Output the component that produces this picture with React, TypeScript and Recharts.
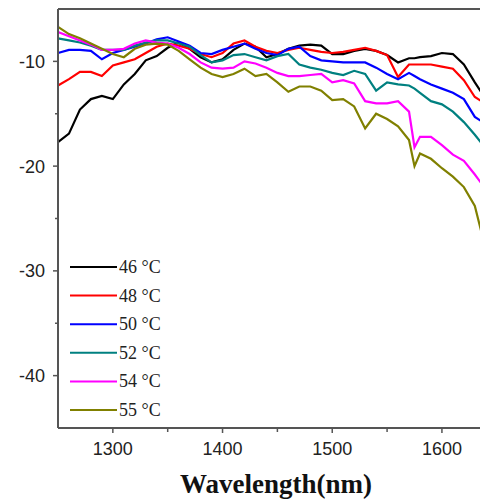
import React from 'react'
import {
  LineChart,
  Line,
  XAxis,
  YAxis,
  ReferenceLine,
  Label
} from 'recharts'

const wavelengths = [
  1250, 1260, 1270, 1280, 1290, 1300, 1310, 1320, 1330, 1340,
  1350, 1360, 1370, 1380, 1390, 1400, 1410, 1420, 1430, 1440,
  1450, 1460, 1470, 1480, 1490, 1500, 1510, 1520, 1530, 1540,
  1550, 1560, 1570, 1575, 1580, 1590, 1600, 1610, 1620, 1630, 1642
]

const t46 = [
  -17.7, -16.9, -14.6, -13.6, -13.3, -13.6, -12.2, -11.2, -9.9, -9.5,
  -8.7, -8.2, -8.8, -9.6, -10.1, -9.8, -8.9, -8.3, -8.6, -9.6,
  -9.3, -8.8, -8.5, -8.4, -8.5, -9.3, -9.3, -9.0, -8.8, -9.0,
  -9.4, -10.1, -9.7, -9.7, -9.6, -9.5, -9.2, -9.3, -10.3, -12.0, -13.9
]
const t48 = [
  -12.3, -11.7, -11.0, -11.0, -11.4, -10.4, -10.1, -9.8, -9.2, -8.6,
  -8.3, -8.5, -8.8, -9.3, -9.6, -9.2, -8.3, -8.0, -8.6, -9.0,
  -9.2, -8.9, -8.7, -8.9, -9.1, -9.2, -9.1, -8.9, -8.7, -9.0,
  -9.4, -11.5, -10.3, -10.3, -10.3, -10.3, -10.5, -10.7, -11.8, -13.4, -14.2
]
const t50 = [
  -9.2, -8.9, -8.9, -9.0, -9.8, -9.2, -8.9, -8.6, -8.3, -7.9,
  -7.7, -8.1, -8.5, -9.2, -9.3, -8.9, -8.6, -8.3, -8.8, -9.2,
  -9.4, -8.8, -8.6, -9.5, -9.9, -10.0, -10.1, -10.1, -10.1, -10.6,
  -11.2, -11.7, -11.1, -11.4, -11.7, -12.2, -12.6, -13.0, -13.6, -15.3, -16.1
]
const t52 = [
  -7.8, -8.0, -8.2, -8.5, -8.9, -8.9, -8.9, -8.5, -8.2, -8.0,
  -8.0, -8.3, -8.6, -9.4, -10.1, -9.9, -9.4, -9.3, -9.6, -9.9,
  -9.5, -9.3, -10.3, -10.6, -10.8, -11.1, -11.3, -10.9, -11.2, -12.8,
  -12.0, -12.2, -12.3, -12.6, -13.0, -13.8, -14.1, -14.8, -15.8, -17.0, -18.6
]
const t54 = [
  -7.2, -7.6, -8.0, -8.4, -8.9, -8.9, -8.8, -8.3, -8.0, -8.2,
  -8.3, -8.7, -9.3, -10.1, -10.6, -10.7, -10.6, -10.0, -10.2, -10.6,
  -11.1, -11.4, -11.4, -11.3, -11.2, -12.0, -11.8, -12.1, -13.8, -14.0,
  -14.0, -13.8, -14.8, -18.2, -17.2, -17.2, -18.0, -18.9, -19.5, -20.8, -22.5
]
const t55 = [
  -6.7, -7.4, -7.8, -8.3, -8.8, -9.3, -9.6, -8.8, -8.4, -8.3,
  -8.4, -9.0, -9.8, -10.6, -11.2, -11.5, -11.2, -10.7, -11.4, -11.2,
  -12.0, -12.9, -12.4, -12.4, -12.8, -13.7, -13.6, -14.3, -16.4, -15.0,
  -15.5, -16.2, -17.5, -20.0, -18.8, -19.3, -20.2, -21.0, -22.0, -23.8, -28.8
]

const seriesNames = ['46 °C', '48 °C', '50 °C', '52 °C', '54 °C', '55 °C']
const seriesColors = ['#000000', '#ff0000', '#0000ff', '#008080', '#ff00ff', '#808000']
const seriesValues = [t46, t48, t50, t52, t54, t55]

const xTicks = [1300, 1350, 1400, 1450, 1500, 1550, 1600]
const yTicks = [-40, -35, -30, -25, -20, -15, -10]

const data = wavelengths.map((w, i) => {
  const row: any = { w }
  seriesValues.forEach((vals, k) => {
    row['s' + k] = vals[i]
  })
  return row
})

const axisColor = '#555555'
const tickFont = "'Liberation Sans', Arial, sans-serif"
const serifFont = "'Liberation Serif', 'Times New Roman', serif"

const XTick = (props: any) => {
  const { x, y, payload } = props
  const major = payload.value % 100 === 0
  return (
    <g>
      <line x1={x} x2={x} y1={y} y2={y + (major ? 5 : 4)} stroke={axisColor} strokeWidth={1.5} />
      {major && (
        <text x={x} y={y + 27} textAnchor="middle" fontSize={18} fontFamily={tickFont} fill="#222">
          {payload.value}
        </text>
      )}
    </g>
  )
}

const YTick = (props: any) => {
  const { x, y, payload } = props
  const major = payload.value % 10 === 0
  return (
    <g>
      <line x1={x} x2={x - (major ? 5 : 3)} y1={y} y2={y} stroke={axisColor} strokeWidth={1.5} />
      {major && (
        <text x={x - 13} y={y + 6.5} textAnchor="end" fontSize={18} fontFamily={tickFont} fill="#222">
          {payload.value}
        </text>
      )}
    </g>
  )
}

// legend drawn as an overlay so the plot keeps its full height
const LegendBox = () => (
  <svg width={120} height={175} style={{ position: 'absolute', left: 55, top: 245 }}>
    {seriesNames.map((name, i) => {
      const cy = 14 + i * 28.6
      return (
        <g key={name}>
          <line x1={7} x2={54} y1={cy} y2={cy} stroke={seriesColors[i]} strokeWidth={2} />
          <text x={56} y={cy + 6} fontSize={18} fontFamily={serifFont} fill="#222">
            {name}
          </text>
        </g>
      )
    })}
  </svg>
)

export default function App() {
  return (
    <div style={{ position: 'relative', width: 480, height: 494 }}>
      {/* plot runs to the window edge, so keep scrollbars away */}
      <style>{'html, body { overflow: hidden; }'}</style>
      <LineChart
        width={480}
        height={494}
        data={data}
        margin={{ top: 1, right: 0, left: 0, bottom: 0 }}
      >
        <XAxis
          dataKey="w"
          type="number"
          domain={[1250, 1642]}
          ticks={xTicks}
          interval={0}
          height={74}
          tickSize={0}
          tickMargin={0}
          tickLine={false}
          tick={<XTick />}
          axisLine={{ stroke: axisColor, strokeWidth: 2 }}
        >
          <Label
            content={(p: any) => {
              const vb = p.viewBox
              return (
                <text
                  x={vb.x + vb.width / 2 + 3}
                  y={vb.y + 65}
                  textAnchor="middle"
                  fontSize={27}
                  fontWeight="bold"
                  fontFamily={serifFont}
                  fill="#111"
                >
                  Wavelength(nm)
                </text>
              )
            }}
          />
        </XAxis>
        <YAxis
          type="number"
          domain={[-45, -5]}
          ticks={yTicks}
          interval={0}
          width={50}
          tickSize={0}
          tickMargin={0}
          tickLine={false}
          tick={<YTick />}
          axisLine={{ stroke: axisColor, strokeWidth: 2 }}
        />
        <ReferenceLine y={-5} stroke={axisColor} strokeWidth={2} />
        {seriesNames.map((name, k) => (
          <Line
            key={name}
            dataKey={'s' + k}
            name={name}
            type="linear"
            stroke={seriesColors[k]}
            strokeWidth={2.2}
            dot={false}
            isAnimationActive={false}
          />
        ))}
      </LineChart>
      <LegendBox />
    </div>
  )
}
